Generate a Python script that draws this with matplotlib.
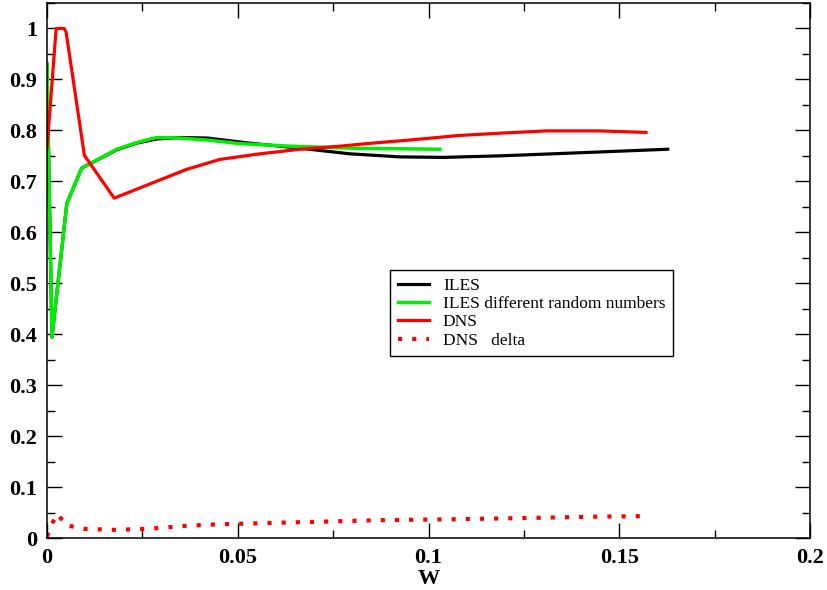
import numpy as np
import matplotlib
matplotlib.use("Agg")
from matplotlib import pyplot as plt
from matplotlib.ticker import MultipleLocator, FormatStrFormatter

# ILES
w_iles = [0.0, 0.0005, 0.0013, 0.0052, 0.0091, 0.0183, 0.0235, 0.0287, 0.0348,
          0.0420, 0.0530, 0.0663, 0.0794, 0.0925, 0.1040, 0.1187, 0.1360, 0.1627]
v_iles = [0.93, 0.72, 0.394, 0.657, 0.726, 0.762, 0.775, 0.783, 0.786,
          0.785, 0.775, 0.765, 0.754, 0.748, 0.747, 0.750, 0.755, 0.763]

# ILES different random numbers
w_iles2 = [0.0, 0.0005, 0.0013, 0.0052, 0.0091, 0.0183, 0.0235, 0.0287, 0.0348,
           0.0420, 0.0506, 0.0637, 0.0800, 0.1030]
v_iles2 = [0.93, 0.72, 0.394, 0.657, 0.726, 0.763, 0.776, 0.786, 0.785,
           0.781, 0.774, 0.769, 0.765, 0.763]

# DNS
w_dns = [0.0, 0.0024, 0.0045, 0.0050, 0.0098, 0.0176, 0.0366, 0.0453, 0.0558,
         0.0663, 0.0768, 0.0838, 0.0950, 0.1080, 0.1200, 0.1310, 0.1450, 0.1570]
v_dns = [0.765, 1.0, 1.0, 0.993, 0.751, 0.667, 0.7235, 0.743, 0.754,
         0.763, 0.769, 0.774, 0.781, 0.790, 0.795, 0.799, 0.799, 0.796]

# DNS delta
w_delta = [0.0, 0.0012, 0.0028, 0.0050, 0.0098, 0.0176, 0.0266, 0.0366, 0.0453,
           0.0558, 0.0663, 0.0768, 0.0873, 0.1080, 0.1310, 0.1450, 0.1570]
v_delta = [0.003, 0.027, 0.047, 0.025, 0.018, 0.016, 0.018, 0.024, 0.027,
           0.029, 0.031, 0.033, 0.035, 0.037, 0.040, 0.042, 0.043]

plt.rcParams['font.family'] = ['Liberation Serif', 'DejaVu Serif']

fig = plt.figure(figsize=(8.27, 5.90), dpi=100)
ax = fig.add_axes([47/827, 1-538/590, (810-47)/827, (538-3)/590])

ax.plot(w_iles, v_iles, color='black', lw=2.3, label='ILES')
ax.plot(w_iles2, v_iles2, color='#00ee00', lw=2.5, label='ILES different random numbers')
ax.plot(w_dns, v_dns, color='#ff0000', lw=2.3, label='DNS')
ax.plot(w_delta, v_delta, color='#ff0000', lw=3.0, linestyle=(0, (1, 2.4)),
        dash_capstyle='butt', label='DNS   delta')

ax.set_xlim(0, 0.2)
ax.set_ylim(0, 1.05)
ax.xaxis.set_major_locator(MultipleLocator(0.05))
ax.xaxis.set_minor_locator(MultipleLocator(0.025))
ax.yaxis.set_major_locator(MultipleLocator(0.1))
ax.yaxis.set_minor_locator(MultipleLocator(0.05))
ax.xaxis.set_major_formatter(FormatStrFormatter('%g'))
ax.yaxis.set_major_formatter(FormatStrFormatter('%g'))

ax.tick_params(which='both', direction='in', top=True, right=True, width=1.0)
ax.tick_params(which='major', length=11, labelsize=16, pad=7)
ax.tick_params(which='minor', length=5.5)
for lab in ax.get_xticklabels() + ax.get_yticklabels():
    lab.set_fontweight('bold')
for sp in ax.spines.values():
    sp.set_linewidth(1.1)

ax.set_xlabel('W', fontsize=16, fontweight='bold', labelpad=1)

leg = ax.legend(loc='upper left', bbox_to_anchor=(390/827, 1-270/590),
                bbox_transform=fig.transFigure, fontsize=12.5, frameon=True,
                fancybox=False, edgecolor='black', framealpha=1,
                handlelength=1.8, handletextpad=0.8, labelspacing=0.12,
                borderpad=0.45, borderaxespad=0)
leg.get_frame().set_linewidth(1.0)

fig.savefig('out.png', dpi=100)
